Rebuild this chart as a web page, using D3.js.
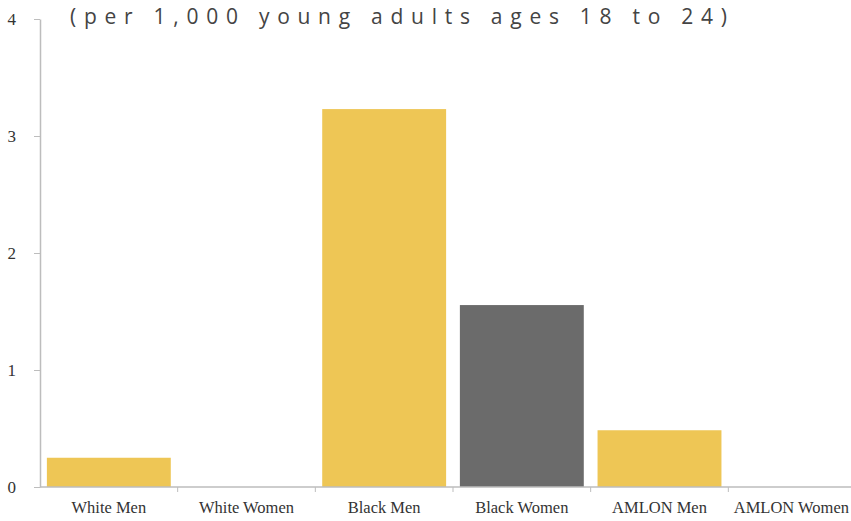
<!DOCTYPE html>
<html>
<head>
<meta charset="utf-8">
<script src="https://cdn.jsdelivr.net/npm/d3@7"></script>
<style>
  html, body { margin: 0; padding: 0; background: #fff; }
  svg { display: block; }
</style>
</head>
<body>
<svg id="chart" width="851" height="521"></svg>
<script>
const categories = ["White Men", "White Women", "Black Men", "Black Women", "AMLON Men", "AMLON Women"];
const values = [0.25, 0, 3.23, 1.555, 0.485, 0];
const barColors = ["#EEC655", "#EEC655", "#EEC655", "#6B6B6B", "#EEC655", "#EEC655"];
const yTicks = [0, 1, 2, 3, 4];
const title = "(per 1,000 young adults ages 18 to 24)";

const svg = d3.select("#chart");
const x0 = 40, x1 = 866, yTop = 19, yBase = 487;

const x = d3.scaleBand().domain(categories).range([x0, x1]).paddingInner(0.1).paddingOuter(0.05);
const y = d3.scaleLinear().domain([0, 4]).range([yBase, yTop]);

// bars
svg.append("g").selectAll("rect").data(categories).join("rect")
  .attr("x", d => x(d))
  .attr("width", x.bandwidth())
  .attr("y", (d, i) => y(values[i]))
  .attr("height", (d, i) => y(0) - y(values[i]))
  .attr("fill", (d, i) => barColors[i]);

// y axis
const yAxis = svg.append("g").attr("transform", `translate(${x0},0)`)
  .call(d3.axisLeft(y).tickValues(yTicks).tickFormat(d3.format("d")).tickSize(6).tickSizeOuter(0).tickPadding(18));
yAxis.select(".domain").attr("stroke", "#BDBDBD").attr("stroke-width", 1.5);
yAxis.selectAll(".tick line").attr("stroke", "#BDBDBD");
yAxis.selectAll("text").attr("font-family", "'Liberation Serif', 'Times New Roman', serif")
  .attr("font-size", 17).attr("fill", "#333");

// x axis: ticks at band boundaries
const boundaries = categories.map((d, i) => x0 + i * ((x1 - x0) / categories.length));
const xg = svg.append("g");
xg.append("line").attr("x1", x0).attr("x2", 851).attr("y1", yBase).attr("y2", yBase)
  .attr("stroke", "#BDBDBD").attr("stroke-width", 1.5);
xg.selectAll("line.tk").data(boundaries.slice(1)).join("line").attr("class", "tk")
  .attr("x1", d => d).attr("x2", d => d).attr("y1", yBase).attr("y2", yBase + 5)
  .attr("stroke", "#BDBDBD");
const labels = xg.selectAll("text").data(categories).join("text")
  .attr("x", d => x(d) + x.bandwidth() / 2)
  .attr("y", 513)
  .attr("text-anchor", "middle")
  .attr("font-family", "'Liberation Serif', 'Times New Roman', serif")
  .attr("font-size", 16.5)
  .attr("fill", "#333")
  .text(d => d);
// keep the last label inside the canvas
labels.each(function () {
  const bb = this.getBBox();
  if (bb.x + bb.width > 849) {
    d3.select(this).attr("text-anchor", "end").attr("x", 849);
  }
});

// title
const t = svg.append("text")
  .attr("x", 70).attr("y", 24)
  .attr("font-family", "'Open Sans', sans-serif")
  .attr("font-size", 21)
  .attr("fill", "#444")
  .attr("letter-spacing", 0)
  .text(title);
const natural = t.node().getComputedTextLength();
const target = 657;
const ls = (target - natural) / (title.length - 1);
t.attr("letter-spacing", ls);
</script>
</body>
</html>
